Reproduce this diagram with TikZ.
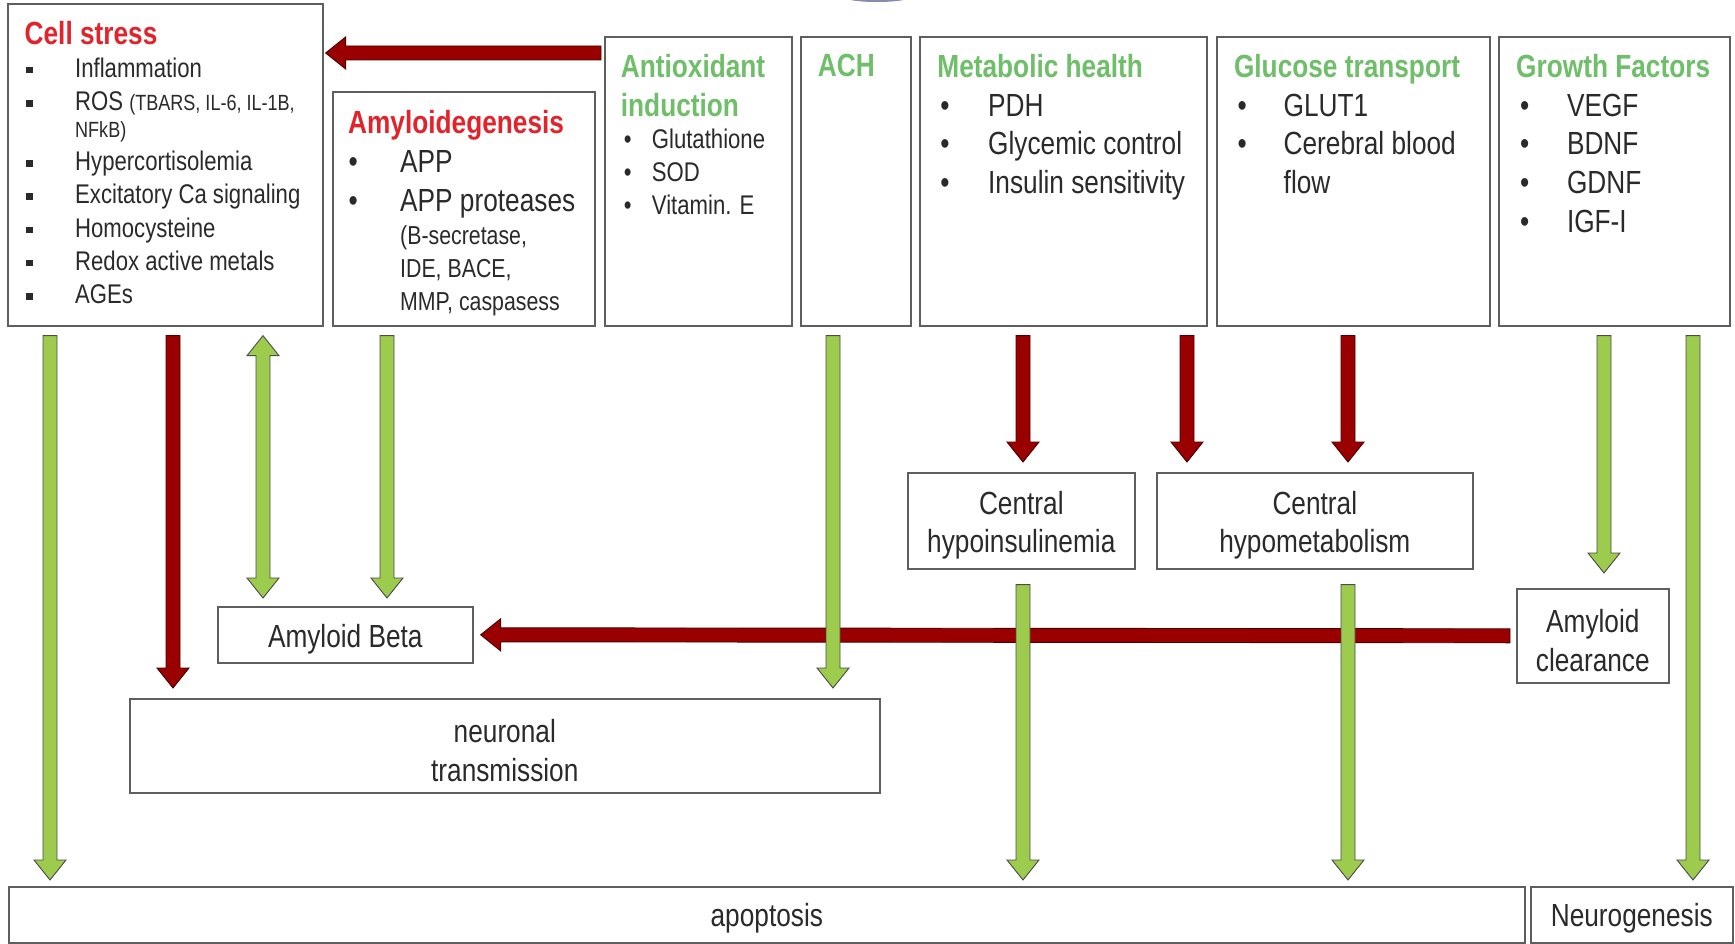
\documentclass[tikz,border=0pt]{standalone}
\usepackage{fontspec}
\setmainfont{Liberation Sans}[FakeStretch=0.82]
\usetikzlibrary{calc}
\definecolor{hred}{HTML}{E3232B}
\definecolor{hgreen}{HTML}{6FBE69}
\definecolor{ared}{HTML}{9B0000}
\definecolor{agreen}{HTML}{9CCB4E}
\definecolor{boxline}{HTML}{5E5E5E}
\definecolor{txt}{HTML}{2A2A2A}
\definecolor{navy}{HTML}{3A3F7A}
\newcommand\sqb{\hspace*{1.5pt}\makebox[49pt][l]{\rule[4pt]{6.5pt}{6.5pt}}}
\newcommand\blt[2]{\hspace*{#1}\makebox[#2][l]{\textbullet}}
\tikzset{
  box/.style={draw=boxline, line width=1.6pt, fill=white, inner sep=0pt, anchor=north west, text=txt},
  lst/.style={anchor=north west, align=left, inner sep=0pt, text=txt},
  ctrtxt/.style={align=center, inner sep=0pt, text=txt, font=\fontsize{32}{38.7}\selectfont},
  blockarrow/.style={line width=0.9pt, line join=miter,
    to path={let \p1=(\tikztostart), \p2=(\tikztotarget),
      \n1={veclen((\x2)-(\x1),(\y2)-(\y1))}, \n2={atan2((\y2)-(\y1),(\x2)-(\x1))} in
      {[shift={(\p1)}, rotate=\n2]
       (0,-7) -- ({\n1-20},-7) -- ({\n1-20},-16) -- (\n1,0) -- ({\n1-20},16) -- ({\n1-20},7) -- (0,7) -- cycle}}},
  dblockarrow/.style={line width=0.9pt, line join=miter,
    to path={let \p1=(\tikztostart), \p2=(\tikztotarget),
      \n1={veclen((\x2)-(\x1),(\y2)-(\y1))}, \n2={atan2((\y2)-(\y1),(\x2)-(\x1))} in
      {[shift={(\p1)}, rotate=\n2]
       (0,0) -- (20,16) -- (20,7) -- ({\n1-20},7) -- ({\n1-20},16) -- (\n1,0) -- ({\n1-20},-16) -- ({\n1-20},-7) -- (20,-7) -- (20,-16) -- cycle}}},
  rarrow/.style={blockarrow, fill=ared, draw=ared!50!black},
  garrow/.style={blockarrow, fill=agreen, draw=black!70},
  gdarrow/.style={dblockarrow, fill=agreen, draw=black!70},
}
\begin{document}
\begin{tikzpicture}[x=1pt, y=1pt]
\useasboundingbox (0,0) rectangle (1735,-944);
\fill[white] (0,0) rectangle (1735,-944);
% faint logo remnant at the top
\begin{scope}
  \clip (830,0) rectangle (925,-3);
  \fill[navy, opacity=0.6] (877,2.5) ellipse (32 and 4.5);
\end{scope}

% ---------- top boxes ----------
\node[box, minimum width=315, minimum height=322] (cs) at (7,-3) {};
\node[box, minimum width=262, minimum height=234] (amy) at (332,-91) {};
\node[box, minimum width=187, minimum height=288.5] (anti) at (604,-36.5) {};
\node[box, minimum width=110, minimum height=288.5] (ach) at (800,-36.5) {};
\node[box, minimum width=287, minimum height=288.5] (met) at (919,-36.5) {};
\node[box, minimum width=273, minimum height=288.5] (glu) at (1216,-36.5) {};
\node[box, minimum width=231, minimum height=288.5] (gro) at (1498,-36.5) {};

\node[lst, font=\fontsize{27}{33.2}\selectfont] (cstxt) at (24.5,-20.8) {%
  {\bfseries\color{hred}\fontsize{32}{33.2}\selectfont Cell stress}\\
  \sqb Inflammation\\
  \sqb ROS {\fontsize{22}{26}\selectfont (TBARS, IL-6, IL-1B,}\\[-6.2pt]
  \hspace*{50.5pt}{\fontsize{22}{26}\selectfont NFkB)}\\
  \sqb Hypercortisolemia\\
  \sqb Excitatory Ca signaling\\
  \sqb Homocysteine\\
  \sqb Redox active metals\\
  \sqb AGEs};

\node[lst, font=\fontsize{32}{38.7}\selectfont] (amytxt) at (348,-110.3) {%
  {\bfseries\color{hred}Amyloidegenesis}\\
  \blt{0.5pt}{51.5pt}APP\\
  \blt{0.5pt}{51.5pt}APP proteases\\[-5.5pt]
  \hspace*{52pt}{\fontsize{26}{30}\selectfont (B-secretase,}\\[-5.5pt]
  \hspace*{52pt}{\fontsize{26}{30}\selectfont IDE, BACE,}\\[-5.5pt]
  \hspace*{52pt}{\fontsize{26}{30}\selectfont MMP, caspasess}};

\node[lst, font=\fontsize{32}{38.7}\selectfont] (antitxt) at (620.7,-54) {%
  {\bfseries\color{hgreen}Antioxidant}\\
  {\bfseries\color{hgreen}induction}\\[-6.2pt]
  {\fontsize{27}{33}\selectfont\blt{3pt}{28pt}Glutathione}\\[-5.5pt]
  {\fontsize{27}{33}\selectfont\blt{3pt}{28pt}SOD}\\[-5.5pt]
  {\fontsize{27}{33}\selectfont\blt{3pt}{28pt}Vitamin. E}};

\node[lst, font=\fontsize{32}{38.7}\selectfont] (achtxt) at (817.7,-54) {%
  {\bfseries\color{hgreen}ACH}};

\node[lst, font=\fontsize{32}{38.7}\selectfont] (mettxt) at (937.2,-54) {%
  {\bfseries\color{hgreen}Metabolic health}\\
  \blt{3pt}{47.8pt}PDH\\
  \blt{3pt}{47.8pt}Glycemic control\\
  \blt{3pt}{47.8pt}Insulin sensitivity};

\node[lst, font=\fontsize{32}{38.7}\selectfont] (glutxt) at (1233.8,-54) {%
  {\bfseries\color{hgreen}Glucose transport}\\
  \blt{3.5pt}{46.2pt}GLUT1\\
  \blt{3.5pt}{46.2pt}Cerebral blood\\
  \hspace*{49.7pt}flow};

\node[lst, font=\fontsize{32}{38.7}\selectfont] (grotxt) at (1516,-54) {%
  {\bfseries\color{hgreen}Growth Factors}\\
  \blt{4pt}{46.8pt}VEGF\\
  \blt{4pt}{46.8pt}BDNF\\
  \blt{4pt}{46.8pt}GDNF\\
  \blt{4pt}{46.8pt}IGF-I};

% ---------- lower boxes ----------
\node[box, minimum width=227, minimum height=96] (chi) at (907,-472) {};
\node[box, minimum width=316, minimum height=96] (chm) at (1156,-472) {};
\node[box, minimum width=255, minimum height=56] (ab) at (217,-606) {};
\node[box, minimum width=152, minimum height=94] (ac) at (1516,-588) {};
\node[box, minimum width=750, minimum height=94] (nt) at (129,-698) {};
\node[box, minimum width=1516, minimum height=56] (apo) at (8,-886) {};
\node[box, minimum width=202, minimum height=56] (neu) at (1530,-886) {};

\node[ctrtxt] (chit) at ($(chi.center)+(0,-4.5)$) {Central\\hypoinsulinemia};
\node[ctrtxt] (chmt) at ($(chm.center)+(0,-4.5)$) {Central\\hypometabolism};
\node[ctrtxt] (abt) at ($(ab.center)+(0,-4.5)$) {Amyloid Beta};
\node[ctrtxt] (act) at ($(ac.center)+(0,-4.5)$) {Amyloid\\clearance};
\node[ctrtxt] (ntt) at ($(nt.center)+(0,-4.5)$) {neuronal\\transmission};
\node[ctrtxt] (apot) at ($(apo.center)+(0,-3)$) {apoptosis};
\node[ctrtxt] (neut) at ($(neu.center)+(0,-3)$) {Neurogenesis};

% ---------- columns ----------
\coordinate (c1) at (50,0);
\coordinate (c2) at (173,0);
\coordinate (c3) at (263,0);
\coordinate (c4) at (387,0);
\coordinate (c5) at (833,0);
\coordinate (c6) at (1023,0);
\coordinate (c7) at (1187,0);
\coordinate (c8) at (1348,0);
\coordinate (c9) at (1604,0);
\coordinate (c10) at (1693,0);
\coordinate (r0) at (0,-53);

% ---------- red arrows ----------
\draw[rarrow] ($(anti.west |- r0)+(-3,0)$) to ($(cs.east |- r0)+(2,0)$);
\draw[rarrow] ($(ac.west)+(-6,0)$) to ($(ab.east)+(7,0)$);
\draw[rarrow] ($(cs.south -| c2)+(0,-9)$) to ($(nt.north -| c2)+(0,10)$);
\draw[rarrow] ($(met.south -| c6)+(0,-9)$) to ($(chi.north -| c6)+(0,10)$);
\draw[rarrow] ($(met.south -| c7)+(0,-9)$) to ($(chm.north -| c7)+(0,10)$);
\draw[rarrow] ($(glu.south -| c8)+(0,-9)$) to ($(chm.north -| c8)+(0,10)$);

% ---------- green arrows ----------
\draw[garrow] ($(cs.south -| c1)+(0,-9)$) to ($(apo.north -| c1)+(0,6)$);
\draw[gdarrow] ($(cs.south -| c3)+(0,-9)$) to ($(ab.north -| c3)+(0,8)$);
\draw[garrow] ($(amy.south -| c4)+(0,-9)$) to ($(ab.north -| c4)+(0,8)$);
\draw[garrow] ($(ach.south -| c5)+(0,-9)$) to ($(nt.north -| c5)+(0,10)$);
\draw[garrow] ($(gro.south -| c9)+(0,-9)$) to ($(ac.north -| c9)+(0,15)$);
\draw[garrow] ($(gro.south -| c10)+(0,-9)$) to ($(neu.north -| c10)+(0,6)$);
\draw[garrow] ($(chi.south -| c6)+(0,-15)$) to ($(apo.north -| c6)+(0,6)$);
\draw[garrow] ($(chm.south -| c8)+(0,-15)$) to ($(apo.north -| c8)+(0,6)$);
\end{tikzpicture}
\end{document}
